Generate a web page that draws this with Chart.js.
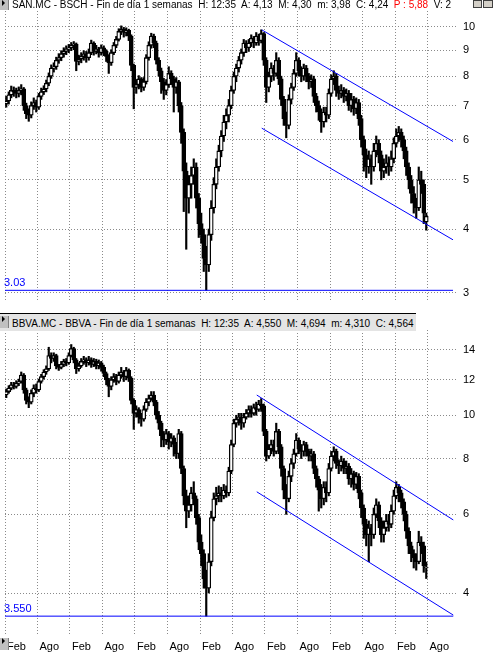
<!DOCTYPE html>
<html>
<head>
<meta charset="utf-8">
<script src="https://cdn.jsdelivr.net/npm/chart.js@4.4.1/dist/chart.umd.min.js"></script>
<style>
  html, body { margin: 0; padding: 0; background: #fff; width: 493px; height: 655px; overflow: hidden;
    font-family: "Liberation Sans", Arial, sans-serif; }
  canvas { position: absolute; left: 0; }
  .title { position: absolute; left: 12px; font-size: 10px; line-height: 11px; white-space: pre; color: #000; }
  .title .hot { color: #ff0000; }
  .bar2 { position: absolute; left: 0; top: 313px; height: 12px; padding: 4px 2px 1px 12px; background: #e4e4e4;
    border-top: 1px solid #000; font-size: 10px; line-height: 11px; white-space: pre; color: #000; }
  .btn { position: absolute; left: 0; width: 8px; background: #c0c0c0; border-right: 1px solid #808080; z-index: 2; }
  .btn::after { content: ""; position: absolute; left: 2px; border-style: solid; border-color: transparent transparent transparent #000;
    border-width: 3px 0 3px 3px; }
  .win { position: absolute; top: 0; width: 9px; height: 8px; background: #d4d0c8; border: 1px solid #404040; box-sizing: border-box; z-index: 2; }
</style>
</head>
<body>
<canvas id="san" width="493" height="305" style="top:3px"></canvas>
<canvas id="bbva" width="493" height="333" style="top:322px"></canvas>

<div class="title" style="top:-1px">SAN.MC - BSCH - Fin de día 1 semanas  H: 12:35  A: 4,13  M: 4,30  m: 3,98  C: 4,24  <span class="hot">P : 5,88</span>  V: 2</div>
<div class="btn" style="top:0;height:10px"></div>
<div class="win" style="left:473px"></div>
<div class="win" style="left:483px;width:10px"></div>

<div class="bar2">BBVA.MC - BBVA - Fin de día 1 semanas  H: 12:35  A: 4,550  M: 4,694  m: 4,310  C: 4,564</div>
<div class="btn" style="top:316px;height:12px"></div>
<div class="btn" style="top:638px;height:12px"></div>

<script>
// Weekly axis: week 0 = first week of February 2006; one candle every two weeks.
const monthWeeks  = [0, 26, 52, 78, 104, 130, 156, 182, 208, 234, 260, 286, 312, 338];
const monthLabels = ['Feb', 'Ago', 'Feb', 'Ago', 'Feb', 'Ago', 'Feb', 'Ago', 'Feb', 'Ago', 'Feb', 'Ago', 'Feb', 'Ago'];

// SAN.MC (BSCH)
const sanOpen = [
  7.05, 7.15, 7.35, 7.50, 7.45, 7.40, 7.50, 7.55, 7.00, 6.75,
  6.70, 7.00, 7.10, 6.95, 7.30, 7.45, 7.55, 7.75, 8.00, 8.30,
  8.35, 8.60, 8.70, 8.85, 8.95, 9.05, 9.10, 9.20, 9.25, 8.55,
  8.65, 8.75, 8.85, 8.70, 8.90, 9.30, 8.95, 9.05, 8.90, 9.10,
  8.95, 8.75, 8.50, 8.90, 9.20, 9.45, 9.80, 9.90, 9.75, 9.85,
  9.60, 8.40, 7.60, 7.70, 7.90, 7.60, 7.80, 8.70, 9.20, 9.60,
  9.30, 8.60, 8.20, 7.80, 7.50, 7.70, 8.10, 7.90, 7.60, 7.80,
  7.00, 6.20, 5.20, 4.60, 4.90, 5.10, 5.30, 4.60, 4.10, 3.90,
  3.50, 3.40, 3.90, 4.40, 4.90, 5.30, 5.70, 6.10, 6.50, 6.70,
  7.00, 7.50, 8.00, 8.30, 8.60, 8.90, 9.30, 9.10, 9.30, 9.50,
  9.30, 9.60, 9.40, 9.70, 8.60, 7.60, 8.00, 8.30, 8.10, 8.60,
  7.90, 7.20, 6.60, 6.40, 7.20, 7.60, 8.10, 8.60, 8.20, 8.00,
  8.30, 8.00, 7.80, 7.90, 7.30, 7.00, 6.80, 6.50, 6.80, 6.70,
  7.40, 7.90, 8.00, 7.50, 7.40, 7.50, 7.30, 7.40, 7.00, 7.20,
  6.90, 7.10, 6.60, 6.00, 5.60, 5.30, 5.50, 5.30, 5.70, 5.90,
  5.60, 5.20, 5.30, 5.40, 5.30, 5.50, 5.90, 6.10, 6.20, 6.00,
  5.70, 5.30, 5.00, 4.70, 4.50, 4.40, 5.00, 4.90, 4.13
];
const sanHigh = [
  7.30, 7.45, 7.65, 7.62, 7.58, 7.62, 7.70, 7.60, 7.08, 6.90,
  7.12, 7.25, 7.18, 7.40, 7.58, 7.66, 7.86, 8.12, 8.42, 8.50,
  8.72, 8.86, 8.98, 9.10, 9.18, 9.24, 9.32, 9.36, 9.30, 8.80,
  8.90, 8.98, 8.95, 9.05, 9.42, 9.35, 9.20, 9.12, 9.22, 9.18,
  9.02, 8.82, 9.02, 9.32, 9.58, 9.92, 10.05, 9.98, 9.96, 9.90,
  9.65, 8.45, 7.88, 8.02, 7.95, 7.95, 8.82, 9.35, 9.72, 9.68,
  9.38, 8.70, 8.30, 7.92, 7.88, 8.35, 8.20, 8.00, 7.95, 7.85,
  7.10, 6.30, 5.40, 5.10, 5.30, 5.50, 5.40, 4.70, 4.30, 4.00,
  3.70, 4.00, 4.55, 5.05, 5.50, 5.85, 6.25, 6.70, 6.90, 7.20,
  7.65, 8.15, 8.45, 8.75, 9.05, 9.45, 9.40, 9.45, 9.65, 9.58,
  9.75, 9.68, 9.87, 9.75, 8.70, 8.15, 8.50, 8.40, 8.90, 8.70,
  8.00, 7.30, 6.80, 7.35, 7.75, 8.25, 8.90, 8.70, 8.35, 8.45,
  8.40, 8.10, 8.05, 8.00, 7.40, 7.15, 6.90, 6.95, 6.95, 7.55,
  8.05, 8.20, 8.10, 7.65, 7.70, 7.60, 7.55, 7.50, 7.40, 7.30,
  7.25, 7.20, 6.70, 6.10, 5.75, 5.70, 5.60, 5.90, 6.10, 6.00,
  5.70, 5.50, 5.60, 5.55, 5.70, 6.05, 6.30, 6.37, 6.30, 6.10,
  5.80, 5.40, 5.10, 4.85, 4.60, 5.30, 5.20, 5.00, 4.30
];
const sanLow = [
  6.95, 7.05, 7.25, 7.30, 7.25, 7.28, 7.35, 6.85, 6.60, 6.52,
  6.62, 6.88, 6.80, 6.88, 7.20, 7.36, 7.45, 7.66, 7.92, 8.15,
  8.25, 8.48, 8.58, 8.72, 8.82, 8.90, 8.98, 9.02, 8.20, 8.42,
  8.50, 8.60, 8.52, 8.60, 8.82, 8.80, 8.85, 8.72, 8.80, 8.78,
  8.55, 8.10, 8.40, 8.82, 9.10, 9.38, 9.66, 9.55, 9.60, 9.40,
  8.20, 6.90, 7.40, 7.55, 7.45, 7.50, 7.72, 8.60, 9.08, 9.10,
  8.45, 8.00, 7.40, 7.20, 7.35, 7.60, 7.70, 6.80, 7.40, 6.80,
  5.90, 4.33, 3.65, 4.30, 4.60, 4.90, 4.40, 3.85, 3.75, 3.30,
  3.03, 3.30, 3.80, 4.30, 4.80, 5.20, 5.55, 5.95, 6.30, 6.50,
  6.90, 7.40, 7.80, 8.15, 8.45, 8.75, 8.90, 8.95, 9.15, 9.10,
  9.20, 9.20, 9.30, 8.40, 7.10, 7.45, 7.80, 7.85, 8.00, 7.70,
  7.00, 6.40, 6.05, 6.30, 7.05, 7.50, 8.00, 8.00, 7.80, 7.85,
  7.80, 7.55, 7.60, 7.10, 6.80, 6.55, 6.20, 6.35, 6.50, 6.60,
  7.30, 7.70, 7.30, 7.20, 7.25, 7.10, 7.15, 6.85, 6.80, 6.70,
  6.75, 6.40, 5.80, 5.20, 5.05, 5.15, 4.90, 5.20, 5.55, 5.40,
  5.00, 5.05, 5.15, 5.10, 5.20, 5.40, 5.80, 5.95, 5.80, 5.50,
  5.10, 4.80, 4.50, 4.30, 4.20, 4.35, 4.70, 4.10, 3.98
];
const sanClose = [
  7.15, 7.35, 7.50, 7.45, 7.40, 7.50, 7.55, 7.00, 6.75, 6.70,
  7.00, 7.10, 6.95, 7.30, 7.45, 7.55, 7.75, 8.00, 8.30, 8.35,
  8.60, 8.70, 8.85, 8.95, 9.05, 9.10, 9.20, 9.25, 8.55, 8.65,
  8.75, 8.85, 8.70, 8.90, 9.30, 8.95, 9.05, 8.90, 9.10, 8.95,
  8.75, 8.50, 8.90, 9.20, 9.45, 9.80, 9.90, 9.75, 9.85, 9.60,
  8.40, 7.60, 7.70, 7.90, 7.60, 7.80, 8.70, 9.20, 9.60, 9.30,
  8.60, 8.20, 7.80, 7.50, 7.70, 8.10, 7.90, 7.60, 7.80, 7.00,
  6.20, 5.20, 4.60, 4.90, 5.10, 5.30, 4.60, 4.10, 3.90, 3.50,
  3.40, 3.90, 4.40, 4.90, 5.30, 5.70, 6.10, 6.50, 6.70, 7.00,
  7.50, 8.00, 8.30, 8.60, 8.90, 9.30, 9.10, 9.30, 9.50, 9.30,
  9.60, 9.40, 9.70, 8.60, 7.60, 8.00, 8.30, 8.10, 8.60, 7.90,
  7.20, 6.60, 6.40, 7.20, 7.60, 8.10, 8.60, 8.20, 8.00, 8.30,
  8.00, 7.80, 7.90, 7.30, 7.00, 6.80, 6.50, 6.80, 6.70, 7.40,
  7.90, 8.00, 7.50, 7.40, 7.50, 7.30, 7.40, 7.00, 7.20, 6.90,
  7.10, 6.60, 6.00, 5.60, 5.30, 5.50, 5.30, 5.70, 5.90, 5.60,
  5.20, 5.30, 5.40, 5.30, 5.50, 5.90, 6.10, 6.20, 6.00, 5.70,
  5.30, 5.00, 4.70, 4.50, 4.40, 5.00, 4.90, 4.30, 4.24
];

// BBVA.MC
const bbvaOpen = [
  11.10, 11.30, 11.50, 11.70, 11.60, 11.80, 11.90, 12.30, 11.40, 10.80,
  10.70, 11.20, 11.50, 11.40, 11.90, 12.20, 12.50, 12.70, 13.60, 13.40,
  13.60, 12.90, 12.80, 13.00, 13.20, 13.10, 13.60, 14.10, 13.30, 12.70,
  12.90, 13.20, 13.30, 13.10, 13.30, 13.00, 13.20, 12.90, 13.10, 12.80,
  12.40, 12.00, 11.60, 12.00, 12.20, 11.90, 12.30, 12.50, 12.20, 12.60,
  12.10, 10.80, 10.10, 10.30, 9.90, 9.80, 10.30, 10.70, 10.90, 11.10,
  10.70, 10.00, 9.60, 9.00, 8.80, 9.10, 8.70, 8.90, 8.60, 8.20,
  9.10, 7.60, 6.60, 6.10, 6.30, 6.70, 6.50, 5.90, 5.20, 4.90,
  4.30, 4.10, 4.70, 5.90, 6.50, 6.60, 6.70, 6.60, 6.80, 6.70,
  7.50, 8.60, 9.60, 9.80, 9.90, 9.60, 9.90, 10.10, 10.30, 10.10,
  10.40, 10.30, 10.60, 10.50, 9.20, 8.10, 8.40, 8.60, 8.30, 9.20,
  8.50, 7.60, 6.80, 6.50, 7.30, 7.80, 8.20, 8.80, 8.40, 8.30,
  8.60, 8.30, 8.10, 8.20, 7.60, 7.20, 6.80, 6.50, 6.90, 6.70,
  7.60, 8.10, 8.30, 7.80, 7.70, 7.90, 7.60, 7.70, 7.20, 7.40,
  7.00, 7.30, 6.70, 6.20, 5.70, 5.40, 5.60, 5.40, 6.00, 6.30,
  5.80, 5.40, 5.60, 5.80, 5.70, 6.10, 6.60, 6.90, 6.70, 6.40,
  6.00, 5.50, 5.10, 4.90, 4.80, 4.70, 5.20, 5.10, 4.550
];
const bbvaHigh = [
  11.45, 11.65, 11.85, 11.85, 11.95, 12.05, 12.50, 12.40, 11.50, 11.00,
  11.40, 11.70, 11.75, 12.05, 12.35, 12.65, 12.90, 14.20, 13.80, 13.80,
  13.70, 13.00, 13.20, 13.35, 13.40, 13.80, 14.40, 14.20, 13.40, 13.10,
  13.40, 13.55, 13.45, 13.55, 13.45, 13.40, 13.35, 13.30, 13.20, 12.95,
  12.50, 12.10, 12.20, 12.40, 12.35, 12.50, 12.80, 12.60, 12.80, 12.70,
  12.20, 10.90, 10.50, 10.40, 10.10, 10.50, 10.90, 11.10, 11.30, 11.30,
  10.80, 10.20, 9.70, 9.20, 9.30, 9.20, 9.10, 9.00, 8.70, 9.30,
  9.20, 7.70, 6.80, 6.60, 6.90, 7.10, 6.60, 6.00, 5.40, 5.00,
  4.50, 4.90, 6.10, 6.70, 6.90, 6.95, 6.90, 7.00, 6.95, 7.65,
  8.80, 9.80, 10.00, 10.10, 10.10, 10.10, 10.30, 10.50, 10.50, 10.60,
  10.70, 10.80, 10.90, 10.60, 9.30, 8.60, 8.80, 8.80, 9.60, 9.30,
  8.60, 7.70, 7.00, 7.50, 8.00, 8.40, 9.10, 8.90, 8.60, 8.75,
  8.70, 8.40, 8.40, 8.30, 7.70, 7.30, 7.00, 7.10, 7.10, 7.80,
  8.30, 8.50, 8.40, 7.95, 8.10, 8.00, 7.90, 7.80, 7.60, 7.50,
  7.45, 7.40, 6.80, 6.30, 5.85, 5.80, 5.70, 6.20, 6.50, 6.40,
  5.90, 5.80, 6.00, 6.00, 6.30, 6.80, 7.10, 7.00, 6.80, 6.50,
  6.10, 5.60, 5.20, 5.00, 4.90, 5.50, 5.35, 5.20, 4.694
];
const bbvaLow = [
  10.95, 11.20, 11.40, 11.45, 11.50, 11.65, 11.80, 11.20, 10.60, 10.40,
  10.60, 11.00, 11.20, 11.30, 11.80, 12.05, 12.35, 12.60, 13.10, 13.20,
  12.70, 12.60, 12.70, 12.85, 12.90, 13.00, 13.50, 13.10, 12.40, 12.55,
  12.80, 13.00, 12.85, 12.95, 12.80, 12.85, 12.70, 12.70, 12.55, 12.20,
  11.70, 11.00, 11.40, 11.85, 11.70, 11.80, 12.10, 11.90, 12.00, 11.90,
  10.60, 9.30, 9.90, 9.60, 9.45, 9.70, 10.20, 10.50, 10.80, 10.50,
  9.80, 9.30, 8.50, 8.50, 8.60, 8.40, 8.50, 8.10, 8.00, 8.00,
  7.40, 6.30, 5.60, 5.90, 6.10, 6.30, 5.70, 5.00, 4.60, 4.10,
  3.55, 4.00, 4.60, 5.80, 6.30, 6.40, 6.40, 6.50, 6.55, 6.60,
  7.40, 8.50, 9.40, 9.50, 9.30, 9.40, 9.80, 9.90, 9.90, 10.00,
  10.00, 10.20, 10.20, 9.00, 7.90, 8.00, 8.20, 8.10, 8.20, 8.20,
  7.30, 6.50, 6.00, 6.40, 7.10, 7.60, 8.10, 8.20, 8.00, 8.10,
  8.10, 7.90, 7.90, 7.40, 6.90, 6.10, 6.20, 6.30, 6.40, 6.60,
  7.50, 7.90, 7.60, 7.40, 7.50, 7.40, 7.40, 7.00, 6.90, 6.80,
  6.85, 6.50, 5.90, 5.30, 5.10, 4.70, 5.10, 5.30, 5.90, 5.60,
  5.20, 5.20, 5.50, 5.50, 5.60, 6.00, 6.50, 6.40, 6.20, 5.80,
  5.30, 4.90, 4.70, 4.55, 4.50, 4.65, 4.90, 4.45, 4.310
];
const bbvaClose = [
  11.30, 11.50, 11.70, 11.60, 11.80, 11.90, 12.30, 11.40, 10.80, 10.70,
  11.20, 11.50, 11.40, 11.90, 12.20, 12.50, 12.70, 13.60, 13.40, 13.60,
  12.90, 12.80, 13.00, 13.20, 13.10, 13.60, 14.10, 13.30, 12.70, 12.90,
  13.20, 13.30, 13.10, 13.30, 13.00, 13.20, 12.90, 13.10, 12.80, 12.40,
  12.00, 11.60, 12.00, 12.20, 11.90, 12.30, 12.50, 12.20, 12.60, 12.10,
  10.80, 10.10, 10.30, 9.90, 9.80, 10.30, 10.70, 10.90, 11.10, 10.70,
  10.00, 9.60, 9.00, 8.80, 9.10, 8.70, 8.90, 8.60, 8.20, 9.10,
  7.60, 6.60, 6.10, 6.30, 6.70, 6.50, 5.90, 5.20, 4.90, 4.30,
  4.10, 4.70, 5.90, 6.50, 6.60, 6.70, 6.60, 6.80, 6.70, 7.50,
  8.60, 9.60, 9.80, 9.90, 9.60, 9.90, 10.10, 10.30, 10.10, 10.40,
  10.30, 10.60, 10.50, 9.20, 8.10, 8.40, 8.60, 8.30, 9.20, 8.50,
  7.60, 6.80, 6.50, 7.30, 7.80, 8.20, 8.80, 8.40, 8.30, 8.60,
  8.30, 8.10, 8.20, 7.60, 7.20, 6.80, 6.50, 6.90, 6.70, 7.60,
  8.10, 8.30, 7.80, 7.70, 7.90, 7.60, 7.70, 7.20, 7.40, 7.00,
  7.30, 6.70, 6.20, 5.70, 5.40, 5.60, 5.40, 6.00, 6.30, 5.80,
  5.40, 5.60, 5.80, 5.70, 6.10, 6.60, 6.90, 6.70, 6.40, 6.00,
  5.50, 5.10, 4.90, 4.80, 4.70, 5.20, 5.10, 4.60, 4.564
];

// Bearish channels [week, price] and support levels
const sanChannelTop     = [[205.4, 9.87], [358.4, 5.95]];
const sanChannelBottom  = [[205.4, 6.32], [358.4, 3.81]];
const bbvaChannelTop    = [[201.4, 11.10], [358.6, 5.83]];
const bbvaChannelBottom = [[201.4, 6.74], [358.6, 3.57]];
const sanSupport  = 3.03;
const bbvaSupport = 3.55;
const sanTicks  = [3, 4, 5, 6, 7, 8, 9, 10];
const bbvaTicks = [4, 6, 8, 10, 12, 14];

const FONT = '"Liberation Sans", Arial, sans-serif';
const GRID = '#8a8a8a';
const BLUE = '#0000ff';
const candleWeeks = sanClose.map((_, i) => 2 * i + 1);

function candleSets(open, high, low, close) {
  return [
    {
      type: 'bar', order: 1, grouped: false, barThickness: 4,
      data: open.map((o, i) => ({ x: candleWeeks[i], y: [o, close[i]] })),
      backgroundColor: open.map((o, i) => close[i] > o ? '#ffffff' : '#000000'),
      borderColor: '#000000', borderWidth: 1.3, borderSkipped: false
    },
    {
      type: 'bar', order: 2, grouped: false, barThickness: 1.5,
      data: low.map((l, i) => ({ x: candleWeeks[i], y: [l, high[i]] })),
      backgroundColor: '#000000', borderWidth: 0
    }
  ];
}

function lineSet(points) {
  return {
    type: 'line', order: 0, data: points.map(p => ({ x: p[0], y: p[1] })),
    borderColor: BLUE, borderWidth: 1, pointRadius: 0, fill: false, tension: 0
  };
}

const levelLabel = {
  id: 'levelLabel',
  afterDatasetsDraw(chart, args, opts) {
    const y = chart.scales.y.getPixelForValue(opts.value);
    const ctx = chart.ctx;
    ctx.save();
    ctx.font = '11px ' + FONT;
    ctx.fillStyle = BLUE;
    ctx.textAlign = 'left';
    ctx.textBaseline = 'alphabetic';
    ctx.fillText(opts.text, chart.chartArea.left - 1, y - 4);
    ctx.restore();
  }
};

function makeChart(id, sets, level, levelText, ticks, yMin, yMax, channelTop, channelBottom, showMonths, pad) {
  const endWeek = channelTop[1][0];
  return new Chart(document.getElementById(id), {
    type: 'bar',
    data: {
      datasets: [
        lineSet(channelTop),
        lineSet(channelBottom),
        lineSet([[0, level], [endWeek, level]]),
        ...sets
      ]
    },
    plugins: [levelLabel],
    options: {
      responsive: false, animation: false, devicePixelRatio: 1,
      layout: { padding: pad },
      plugins: {
        legend: { display: false }, tooltip: { enabled: false },
        levelLabel: { value: level, text: levelText }
      },
      scales: {
        x: {
          type: 'linear', min: 0, max: 360.8, offset: false,
          afterBuildTicks: s => { s.ticks = monthWeeks.map(v => ({ value: v })); },
          afterFit: s => { s.height = showMonths ? 21 : 0; s.paddingLeft = 0; s.paddingRight = 0; },
          grid: { offset: false, color: GRID, drawTicks: false },
          border: { display: false, dash: [1, 2] },
          ticks: {
            display: showMonths, autoSkip: false, maxRotation: 0, align: 'start',
            labelOffset: 2, padding: 6, color: '#000', font: { family: FONT, size: 11 },
            callback: (v, i) => monthLabels[i]
          }
        },
        y: {
          type: 'logarithmic', position: 'right', min: yMin, max: yMax,
          afterBuildTicks: s => { s.ticks = ticks.map(v => ({ value: v })); },
          afterFit: s => { s.width = 37; s.paddingTop = 0; s.paddingBottom = 0; },
          grid: { color: GRID, drawTicks: false },
          border: { display: false, dash: [1, 2] },
          ticks: { color: '#000', padding: 7, font: { family: FONT, size: 11 }, callback: v => String(v) }
        }
      }
    }
  });
}

makeChart('san', candleSets(sanOpen, sanHigh, sanLow, sanClose), sanSupport, sanSupport.toFixed(2),
  sanTicks, 2.906, 10.75, sanChannelTop, sanChannelBottom, false, { left: 5, right: 0, top: 8, bottom: 8 });
makeChart('bbva', candleSets(bbvaOpen, bbvaHigh, bbvaLow, bbvaClose), bbvaSupport, bbvaSupport.toFixed(3),
  bbvaTicks, 3.238, 15.52, bbvaChannelTop, bbvaChannelBottom, true, { left: 5, right: 0, top: 8, bottom: 0 });
</script>
</body>
</html>
